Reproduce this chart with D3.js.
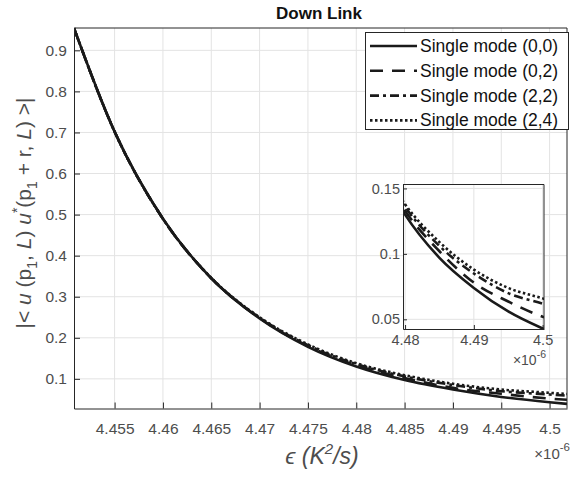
<!DOCTYPE html>
<html>
<head>
<meta charset="utf-8">
<script src="https://cdn.jsdelivr.net/npm/d3@7"></script>
<style>
  body { margin: 0; background: #fff; }
  svg { font-family: "Liberation Sans", Arial, sans-serif; }
  .tick text { fill: #4d4d4d; }
</style>
</head>
<body>
<svg></svg>
<script>
// epsilon values, in units of 1e-6 K^2/s
const epsVals = [4.4508, 4.455, 4.46, 4.465, 4.47, 4.475, 4.48, 4.485, 4.49, 4.495, 4.5, 4.5018]
const mode00 = [0.954, 0.702, 0.490, 0.345, 0.247, 0.178, 0.130, 0.097, 0.074, 0.056, 0.043, 0.039]
const mode02 = [0.954, 0.702, 0.490, 0.345, 0.248, 0.180, 0.133, 0.102, 0.078, 0.0636, 0.052, 0.049]
const mode22 = [0.954, 0.702, 0.490, 0.345, 0.249, 0.182, 0.136, 0.106, 0.085, 0.070, 0.062, 0.059]
const mode24 = [0.954, 0.702, 0.490, 0.346, 0.250, 0.184, 0.138, 0.109, 0.088, 0.074, 0.066, 0.063]

const seriesNames = ["Single mode (0,0)", "Single mode (0,2)", "Single mode (2,2)", "Single mode (2,4)"]
const xTicks = [4.455, 4.46, 4.465, 4.47, 4.475, 4.48, 4.485, 4.49, 4.495, 4.5]
const yTicks = [0.1, 0.2, 0.3, 0.4, 0.5, 0.6, 0.7, 0.8, 0.9]
const insetXTicks = [4.48, 4.49, 4.5]
const insetYTicks = [0.05, 0.1, 0.15]

const series = [mode00, mode02, mode22, mode24].map((vals, i) => ({
    name: seriesNames[i],
    points: vals.map((v, j) => ({ x: epsVals[j], y: v }))
}))

// line styles for each series
const dashes = [null, "13,9", "9,4,3,4", "2.5,2.5"]

const svg = d3.select("svg")
    .attr("width", 571)
    .attr("height", 477)

const axisColor = "#262626"
const gridColor = "#e3e3e3"

// main axes box
const plot = { left: 74, right: 567, top: 28, bottom: 408.5 }

const x = d3.scaleLinear()
    .domain([4.4508, 4.5018])
    .range([plot.left, plot.right])

const y = d3.scaleLinear()
    .domain([0.0278, 0.9544])
    .range([plot.bottom, plot.top])

svg.append("clipPath")
    .attr("id", "clip-main")
    .append("rect")
    .attr("x", plot.left)
    .attr("y", plot.top - 2)
    .attr("width", plot.right - plot.left)
    .attr("height", plot.bottom - plot.top + 2)

// grid
svg.append("g")
    .selectAll("line")
    .data(xTicks)
    .enter()
    .append("line")
    .attr("x1", d => x(d)).attr("x2", d => x(d))
    .attr("y1", plot.top).attr("y2", plot.bottom)
    .style("stroke", gridColor)

svg.append("g")
    .selectAll("line")
    .data(yTicks)
    .enter()
    .append("line")
    .attr("x1", plot.left).attr("x2", plot.right)
    .attr("y1", d => y(d)).attr("y2", d => y(d))
    .style("stroke", gridColor)

const line = (sx, sy) => d3.line()
    .x(d => sx(d.x))
    .y(d => sy(d.y))
    .curve(d3.curveMonotoneX)

// curves
svg.append("g")
    .attr("clip-path", "url(#clip-main)")
    .selectAll("path")
    .data(series)
    .enter()
    .append("path")
    .attr("d", d => line(x, y)(d.points))
    .style("fill", "none")
    .style("stroke", "#1a1a1a")
    .style("stroke-width", 2.6)
    .style("stroke-dasharray", (d, i) => dashes[i])

// axes
const xAxis = svg.append("g")
    .attr("transform", `translate(0, ${plot.bottom})`)
    .call(d3.axisBottom(x).tickValues(xTicks).tickFormat(d => String(d))
        .tickSizeInner(-6).tickSizeOuter(0).tickPadding(14))

const yAxis = svg.append("g")
    .attr("transform", `translate(${plot.left}, 0)`)
    .call(d3.axisLeft(y).tickValues(yTicks).tickFormat(d => String(d))
        .tickSizeInner(-6).tickSizeOuter(0).tickPadding(7))

;[xAxis, yAxis].forEach(a => {
    a.selectAll("text").style("font-size", "15.5px")
    a.selectAll("line, path").style("stroke", axisColor)
})

// top and right border
svg.append("path")
    .attr("d", `M${plot.left},${plot.top}H${plot.right}V${plot.bottom}`)
    .style("fill", "none")
    .style("stroke", axisColor)

// title
svg.append("text")
    .attr("x", 319)
    .attr("y", 19)
    .attr("text-anchor", "middle")
    .style("font-weight", "bold")
    .style("font-size", "17px")
    .style("fill", "#111")
    .text("Down Link")

// exponent label
const expo = svg.append("text")
    .attr("x", 570)
    .attr("y", 459)
    .attr("text-anchor", "end")
    .style("font-size", "15px")
    .style("fill", "#4d4d4d")
expo.append("tspan").text("\u00d710")
expo.append("tspan").attr("dy", -8).style("font-size", "11.5px").text("-6")

// x label
const xLabel = svg.append("text")
    .attr("x", 322)
    .attr("y", 464)
    .attr("text-anchor", "middle")
    .style("font-size", "23px")
    .style("fill", "#4d4d4d")
xLabel.append("tspan").style("font-style", "italic").text("\u03f5 (K")
xLabel.append("tspan").attr("dy", -10).style("font-size", "15px").style("font-style", "italic").text("2")
xLabel.append("tspan").attr("dy", 10).style("font-style", "italic").text("/s)")

// y label
const yLabel = svg.append("text")
    .attr("transform", "translate(31, 213) rotate(-90)")
    .attr("text-anchor", "middle")
    .style("font-size", "21px")
    .style("fill", "#4d4d4d")
const yParts = [
    ["|< ", null], ["u", "italic"], [" (p", null], ["1", "sub"], [", ", null],
    ["L", "italic"], [") ", null], ["u", "italic"], ["*", "sup"], ["(p", null],
    ["1", "sub"], [" + r, ", null], ["L", "italic"], [") >|", null]
]
let shift = 0
yParts.forEach(([t, kind]) => {
    let target = kind === "sub" ? 6 : kind === "sup" ? -9 : 0
    const ts = yLabel.append("tspan").attr("dy", target - shift).text(t)
    shift = target
    if (kind === "italic") ts.style("font-style", "italic")
    if (kind === "sub" || kind === "sup") ts.style("font-size", "14px")
})

// legend
const legend = svg.append("g")
legend.append("rect")
    .attr("x", 365.5)
    .attr("y", 32.5)
    .attr("width", 203)
    .attr("height", 97)
    .style("fill", "#fff")
    .style("stroke", axisColor)

const rows = legend.selectAll("g.row")
    .data(series)
    .enter()
    .append("g")
    .attr("class", "row")
    .attr("transform", (d, i) => `translate(0, ${46 + i * 24.8})`)

rows.append("line")
    .attr("x1", 370).attr("x2", 417)
    .style("stroke", "#1a1a1a")
    .style("stroke-width", 2.6)
    .style("stroke-dasharray", (d, i) => dashes[i])

rows.append("text")
    .attr("x", 420)
    .attr("y", 6)
    .style("font-size", "17.5px")
    .style("fill", "#111")
    .text(d => d.name)

// inset
const inset = { left: 403, right: 544, top: 184.5, bottom: 329 }

const xi = d3.scaleLinear()
    .domain([4.4797, 4.5002])
    .range([inset.left, inset.right])

const yi = d3.scaleLinear()
    .domain([0.0426, 0.153])
    .range([inset.bottom, inset.top])

svg.append("clipPath")
    .attr("id", "clip-inset")
    .append("rect")
    .attr("x", inset.left)
    .attr("y", inset.top)
    .attr("width", inset.right - inset.left)
    .attr("height", inset.bottom - inset.top)

svg.append("rect")
    .attr("x", inset.left)
    .attr("y", inset.top)
    .attr("width", inset.right - inset.left)
    .attr("height", inset.bottom - inset.top)
    .style("fill", "#fff")

svg.append("g")
    .selectAll("line")
    .data(insetXTicks)
    .enter()
    .append("line")
    .attr("x1", d => xi(d)).attr("x2", d => xi(d))
    .attr("y1", inset.top).attr("y2", inset.bottom)
    .style("stroke", gridColor)

svg.append("g")
    .selectAll("line")
    .data(insetYTicks)
    .enter()
    .append("line")
    .attr("x1", inset.left).attr("x2", inset.right)
    .attr("y1", d => yi(d)).attr("y2", d => yi(d))
    .style("stroke", gridColor)

svg.append("g")
    .attr("clip-path", "url(#clip-inset)")
    .selectAll("path")
    .data(series)
    .enter()
    .append("path")
    .attr("d", d => line(xi, yi)(d.points))
    .style("fill", "none")
    .style("stroke", "#1a1a1a")
    .style("stroke-width", 2.6)
    .style("stroke-dasharray", (d, i) => dashes[i])

const xiAxis = svg.append("g")
    .attr("transform", `translate(0, ${inset.bottom})`)
    .call(d3.axisBottom(xi).tickValues(insetXTicks).tickFormat(d => String(d))
        .tickSizeInner(-4).tickSizeOuter(0).tickPadding(6))

const yiAxis = svg.append("g")
    .attr("transform", `translate(${inset.left}, 0)`)
    .call(d3.axisLeft(yi).tickValues(insetYTicks).tickFormat(d => String(d))
        .tickSizeInner(-4).tickSizeOuter(0).tickPadding(3))

;[xiAxis, yiAxis].forEach(a => {
    a.selectAll("text").style("font-size", "14.5px")
    a.selectAll("line, path").style("stroke", axisColor)
})

svg.append("path")
    .attr("d", `M${inset.left},${inset.top}H${inset.right}V${inset.bottom}`)
    .style("fill", "none")
    .style("stroke", axisColor)

const expoInset = svg.append("text")
    .attr("x", 546)
    .attr("y", 365)
    .attr("text-anchor", "end")
    .style("font-size", "14px")
    .style("fill", "#4d4d4d")
expoInset.append("tspan").text("\u00d710")
expoInset.append("tspan").attr("dy", -7).style("font-size", "10.5px").text("-6")
</script>
</body>
</html>
